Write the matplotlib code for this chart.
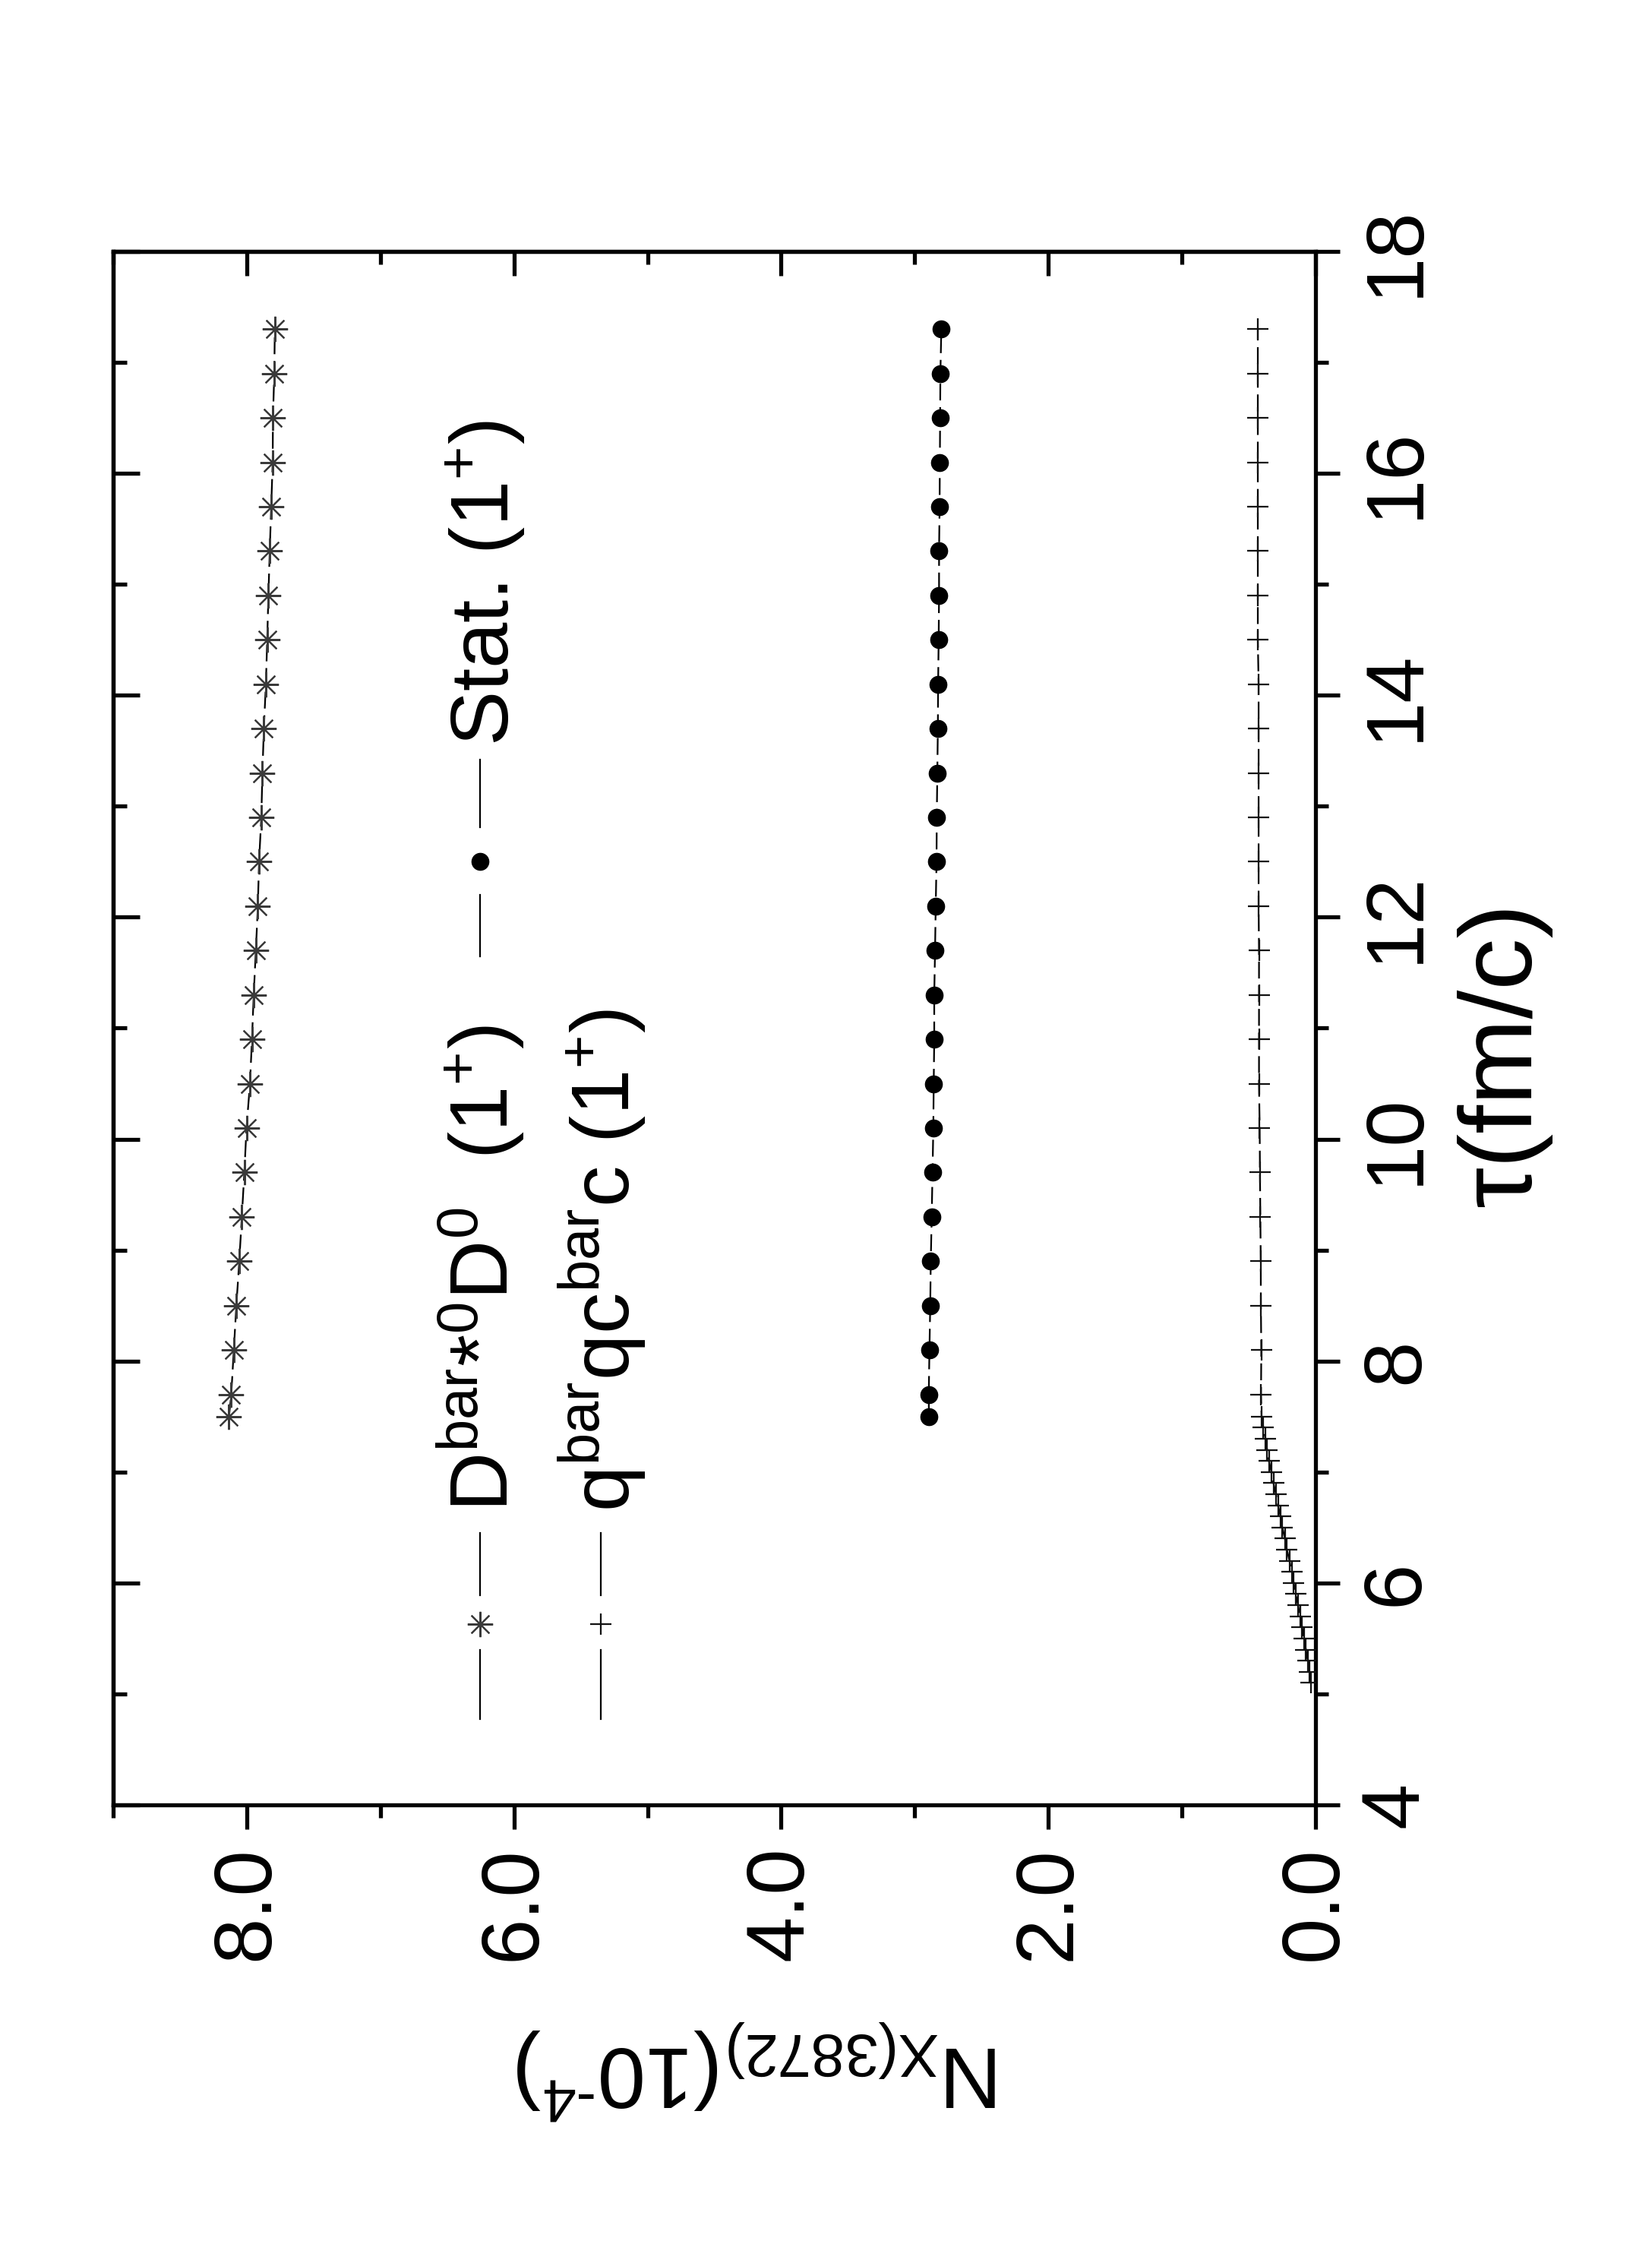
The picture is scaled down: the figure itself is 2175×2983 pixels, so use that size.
import matplotlib
matplotlib.use("Agg")
import matplotlib.pyplot as plt
from matplotlib.ticker import FixedLocator, FormatStrFormatter
from matplotlib.lines import Line2D

plt.rcParams['font.family'] = ['Liberation Sans', 'DejaVu Sans']
plt.rcParams['mathtext.fontset'] = 'custom'
plt.rcParams['mathtext.rm'] = 'Liberation Sans'
plt.rcParams['mathtext.it'] = 'Liberation Sans:italic'
plt.rcParams['mathtext.bf'] = 'Liberation Sans:bold'
plt.rcParams['mathtext.sf'] = 'Liberation Sans'

# ---------------- data ----------------
tau_mol = [7.5, 7.7, 8.1, 8.5, 8.9, 9.3, 9.7, 10.1, 10.5, 10.9, 11.3, 11.7, 12.1,
           12.5, 12.9, 13.3, 13.7, 14.1, 14.5, 14.9, 15.3, 15.7, 16.1, 16.5, 16.9, 17.3]
N_mol = [8.133, 8.116, 8.097, 8.078, 8.056, 8.037, 8.018, 8.002, 7.976, 7.961, 7.948,
         7.932, 7.917, 7.908, 7.891, 7.883, 7.872, 7.857, 7.847, 7.838, 7.828, 7.817,
         7.806, 7.804, 7.794, 7.790]

tau_stat = [7.5, 7.7, 8.1, 8.5, 8.9, 9.3, 9.7, 10.1, 10.5, 10.9, 11.3, 11.7, 12.1,
            12.5, 12.9, 13.3, 13.7, 14.1, 14.5, 14.9, 15.3, 15.7, 16.1, 16.5, 16.9, 17.3]
N_stat = [2.894, 2.895, 2.890, 2.884, 2.880, 2.873, 2.867, 2.861, 2.858, 2.854, 2.854,
          2.848, 2.843, 2.837, 2.835, 2.831, 2.827, 2.825, 2.821, 2.818, 2.818, 2.814,
          2.812, 2.810, 2.808, 2.801]

tau_qq = [5.1, 5.2, 5.3, 5.4, 5.5, 5.6, 5.7, 5.8, 5.9, 6.0, 6.1, 6.2, 6.3, 6.4, 6.5,
          6.6, 6.7, 6.8, 6.9, 7.0, 7.1, 7.2, 7.3, 7.4, 7.5,
          7.7, 8.1, 8.5, 8.9, 9.3, 9.7, 10.1, 10.5, 10.9, 11.3, 11.7, 12.1, 12.5,
          12.9, 13.3, 13.7, 14.1, 14.5, 14.9, 15.3, 15.7, 16.1, 16.5, 16.9, 17.3]
N_qq = [0.034, 0.045, 0.059, 0.072, 0.087, 0.100, 0.116, 0.131, 0.148, 0.163, 0.178,
        0.195, 0.214, 0.229, 0.248, 0.262, 0.281, 0.296, 0.315, 0.330, 0.349, 0.362,
        0.375, 0.390, 0.404,
        0.408, 0.406, 0.409, 0.410, 0.413, 0.416, 0.418, 0.423, 0.423, 0.423, 0.423,
        0.426, 0.426, 0.426, 0.426, 0.426, 0.426, 0.432, 0.432, 0.432, 0.432, 0.432,
        0.432, 0.432, 0.432]

N_major = [0, 2, 4, 6, 8]
N_minor = [1, 3, 5, 7, 9]
tau_major = [4, 6, 8, 10, 12, 14, 16, 18]
tau_minor = [5, 7, 9, 11, 13, 15, 17]

labels = [r"D$^{\rm bar}$*$^{\rm 0}$D$^{\rm 0}$  (1$^{+}$)",
          r"$\mathrm{q^{bar}qc^{bar}c}\ (1^{+})$",
          r"Stat. $(1^{+})$"]
xlabel = "τ(fm/c)"
ylabel = "N$_{\\rm X(3872)}$(10$^{\u2010\\rm 4}$)"

# ---------------- figure ----------------
W, H = 2175, 2983
fig = plt.figure(figsize=(W / 100, H / 100), dpi=100)
ax = fig.add_axes([149 / W, 1 - 2376 / H, (1732 - 149) / W, (2376 - 331) / H])

lw_ax = 3.8
for s in ax.spines.values():
    s.set_linewidth(lw_ax)

dash = (10, 4)
ast = (8, 2, 0)
ax.plot(N_mol, tau_mol, color='black', lw=1.6, dashes=dash, marker=ast,
        ms=24, mew=1.6, mec='#3a3a3a', zorder=3)
ax.plot(N_stat, tau_stat, color='black', lw=1.6, dashes=dash, marker='o',
        ms=16, mfc='black', mec='black', zorder=3)
ax.plot(N_qq, tau_qq, color='black', lw=1.6, dashes=dash, marker='+',
        ms=20, mew=1.6, mec='#111111', zorder=3)

ax.set_xlim(9, 0)
ax.set_ylim(4, 18)

ax.xaxis.set_major_locator(FixedLocator(N_major))
ax.xaxis.set_minor_locator(FixedLocator(N_minor))
ax.xaxis.set_major_formatter(FormatStrFormatter('%.1f'))
ax.yaxis.set_major_locator(FixedLocator(tau_major))
ax.yaxis.set_minor_locator(FixedLocator(tau_minor))
ax.yaxis.tick_right()

ax.tick_params(axis='both', which='major', direction='out', length=23, width=lw_ax,
               labelsize=78)
ax.tick_params(axis='both', which='minor', direction='out', length=12, width=lw_ax)
ax.tick_params(axis='x', labelrotation=90, pad=16)
ax.tick_params(axis='y', labelrotation=90, pad=18, left=False, right=True,
               labelleft=False, labelright=True)
ax.tick_params(axis='y', which='minor', left=False, right=True)
plt.setp(ax.get_yticklabels(), va='center', ha='left')

secx = ax.secondary_xaxis('top')
secx.xaxis.set_major_locator(FixedLocator(N_major))
secx.xaxis.set_minor_locator(FixedLocator(N_minor))
secx.tick_params(which='major', direction='in', length=23, width=lw_ax, labeltop=False)
secx.tick_params(which='minor', direction='in', length=12, width=lw_ax)
secx.spines['top'].set_linewidth(lw_ax)

secy = ax.secondary_yaxis('left')
secy.yaxis.set_major_locator(FixedLocator(tau_major))
secy.yaxis.set_minor_locator(FixedLocator(tau_minor))
secy.tick_params(which='major', direction='in', length=25, width=lw_ax, labelleft=False)
secy.tick_params(which='minor', direction='in', length=13, width=lw_ax)
secy.spines['left'].set_linewidth(lw_ax)

# axis labels
fig.text(1980 / W, 1 - 1388 / H, xlabel, rotation=90, ha='center', va='center',
         fontsize=98)
fig.text(1000 / W, 1 - 2725 / H, ylabel, rotation=180, ha='center', va='center',
         fontsize=82)

# ---------------- legend (rotated, drawn by hand) ----------------
def ax_x(px):
    return (px - 149) / (1732 - 149)

def ax_y(py):
    return (2376 - py) / (2376 - 331)

T = ax.transAxes
leg = [
    dict(x=632, segs=[(2018, 2100), (2172, 2263)], mk=2138, marker=ast, ms=24,
         mew=1.6, mec='#3a3a3a', mfc='none', tx=670, ty=1990),
    dict(x=791, segs=[(2018, 2100), (2172, 2263)], mk=2138, marker='+', ms=20,
         mew=1.6, mec='#111111', mfc='none', tx=830, ty=1990),
    dict(x=632, segs=[(1000, 1089), (1178, 1259)], mk=1134, marker='o', ms=16,
         mew=1.0, mec='black', mfc='black', tx=670, ty=982),
]
for e, lab in zip(leg, labels):
    for a, b in e['segs']:
        ax.add_line(Line2D([ax_x(e['x'])] * 2, [ax_y(a), ax_y(b)], transform=T,
                           color='black', lw=1.6))
    ax.add_line(Line2D([ax_x(e['x'])], [ax_y(e['mk'])], transform=T, ls='none',
                       marker=e['marker'], ms=e['ms'], mew=e['mew'], mec=e['mec'],
                       mfc=e['mfc']))
    ax.text(ax_x(e['tx']), ax_y(e['ty']), lab, transform=T, rotation=90,
            rotation_mode='anchor', ha='left', va='baseline', fontsize=78)

fig.savefig('out.png', dpi=100, facecolor='white')
